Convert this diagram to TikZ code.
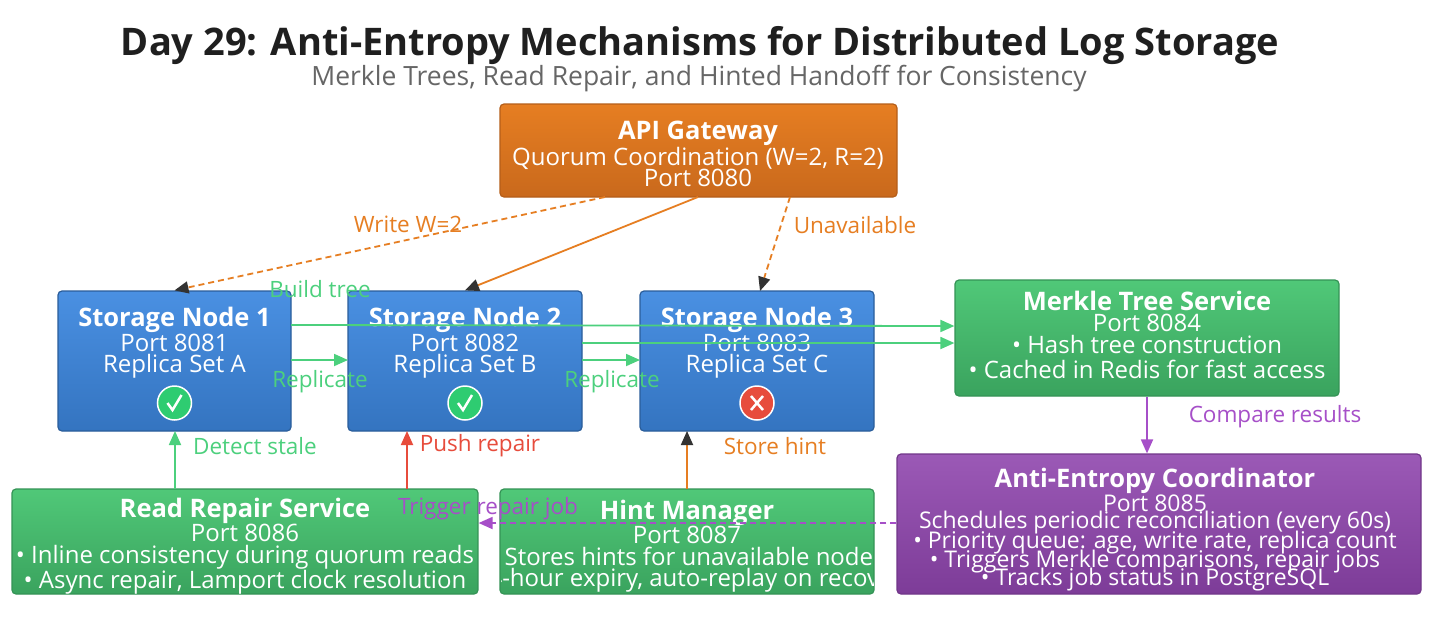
\documentclass[tikz,border=0pt]{standalone}
\usepackage{fontspec}
\setmainfont{Open Sans}
\usetikzlibrary{arrows.meta}
\definecolor{og1}{HTML}{E67E22}\definecolor{og2}{HTML}{C9691C}
\definecolor{bl1}{HTML}{4A90E2}\definecolor{bl2}{HTML}{3474C0}
\definecolor{gr1}{HTML}{50C878}\definecolor{gr2}{HTML}{3AA35E}
\definecolor{pu1}{HTML}{9B59B6}\definecolor{pu2}{HTML}{7D3C98}
\definecolor{eo}{HTML}{E67E22}\definecolor{eg}{HTML}{4CD07D}
\definecolor{er}{HTML}{E74C3C}\definecolor{ep}{HTML}{A64FC8}
\definecolor{ok}{HTML}{2ECC71}
\tikzset{
 box/.style={rounded corners=4pt,line width=1.2pt,inner sep=0pt},
 og/.style={box,draw=og2!90!black,top color=og1,bottom color=og2},
 bl/.style={box,draw=bl2!80!black,top color=bl1,bottom color=bl2},
 gr/.style={box,draw=gr2!90!black,top color=gr1,bottom color=gr2},
 pu/.style={box,draw=pu2!90!black,top color=pu1,bottom color=pu2},
 txt/.style={text=white,align=center,font=\fontsize{24}{21.5}\selectfont,inner sep=0pt},
 ln/.style={text=white,font=\fontsize{23}{24}\selectfont,inner sep=0pt},
 lab/.style={font=\fontsize{22.5}{24}\selectfont,inner sep=1pt},
 tip/.style={-{Triangle[length=14pt,width=12pt]}},
 dtip/.style={-{Triangle[length=14pt,width=12pt,fill=black!80,color=black!80]}},
 ed/.style={line width=1.8pt},
}
\newcommand{\mybox}[6]{\node[#2,minimum width=#5pt,minimum height=#6pt] (#1) at (#3,#4) {};}
\newcommand{\hdr}[1]{{\bfseries\fontsize{25.5}{23}\selectfont #1}}
\begin{document}
\begin{tikzpicture}[x=1pt,y=-1pt]
\useasboundingbox (0,0) rectangle (1456,641);
\fill[white] (0,0) rectangle (1456,641);
\node[font=\bfseries\fontsize{38}{40}\selectfont,text=black!88] (title) at (700,46) {Day 29: Anti-Entropy Mechanisms for Distributed Log Storage};
\node[font=\fontsize{26.5}{28}\selectfont,text=black!60] (sub) at (699,79) {Merkle Trees, Read Repair, and Hinted Handoff for Consistency};
\mybox{gw}{og}{698.5}{150.5}{397}{93}
\mybox{s1}{bl}{174.5}{361}{233}{140}
\mybox{s2}{bl}{465}{361}{234}{140}
\mybox{s3}{bl}{757}{361}{234}{140}
\mybox{mk}{gr}{1147}{338}{384}{116}
\mybox{ae}{pu}{1159}{524}{524}{140}
\mybox{rr}{gr}{245}{541.5}{466}{105}
\mybox{hm}{gr}{687}{541.5}{374}{105}
\coordinate (b1) at (291,325); \coordinate (b2) at (582,343);
\node[txt] (gwt) at (698,154) {\hdr{API Gateway}\\Quorum Coordination (W=2, R=2)\\Port 8080};
\node[txt] (s1t) at (174.5,343) {\hdr{Storage Node 1}\\Port 8081\\Replica Set A};
\node[txt] (s2t) at (465,343) {\hdr{Storage Node 2}\\Port 8082\\Replica Set B};
\node[txt] (s3t) at (757,343) {\hdr{Storage Node 3}\\Port 8083\\Replica Set C};
\node[txt] (mkt) at (1147,335) {\hdr{Merkle Tree Service}\\Port 8084\\• Hash tree construction\\[4pt]• Cached in Redis for fast access};
\node[ln] (ae1) at (1155,481) {\hdr{Anti-Entropy Coordinator}};
\node[ln] (ae2) at (1155,503) {Port 8085};
\node[ln] (ae3) at (1155,523) {Schedules periodic reconciliation (every 60s)};
\node[ln] (ae4) at (1155,543) {• Priority queue: age, write rate, replica count};
\node[ln] (ae5) at (1155,562) {• Triggers Merkle comparisons, repair jobs};
\node[ln] (ae6) at (1155,580) {• Tracks job status in PostgreSQL};
\node[txt] (rrt) at (245,546) {\hdr{Read Repair Service}\\Port 8086\\• Inline consistency during quorum reads\\• Async repair, Lamport clock resolution};
\begin{scope}
\clip[rounded corners=4pt] (501,490) rectangle (873,593);
\node[txt] (hmt) at (687,546) {\hdr{Hint Manager}\\Port 8087\\• Stores hints for unavailable nodes\\• 24-hour expiry, auto-replay on recovery};
\end{scope}
\foreach \n/\x in {i1/174.5,i2/465}{
 \node[circle,fill=ok,draw=white,line width=1.5pt,minimum size=34pt,inner sep=0pt] (\n) at (\x,403) {};
 \draw[white,line width=2.5pt] (\x-7,403) -- (\x-2,410) -- (\x+7,395);}
\node[circle,fill=er,draw=white,line width=1.5pt,minimum size=34pt,inner sep=0pt] (i3) at (757,403) {};
\draw[white,line width=2.5pt] (751,396)--(763,410) (763,396)--(751,410);
\draw[ed,eg,tip] (b1) -- (mk.west |- 0,326);
\draw[ed,eg,tip] (b2) -- (mk.west |- 0,343);
\draw[ed,eo,dash pattern=on 6pt off 4pt,dtip] (605,197) -- (s1.north);
\draw[ed,eo,dtip] (698,197) -- (s2.north);
\draw[ed,eo,dash pattern=on 6pt off 4pt,dtip] (790,197) -- (760,291);
\node[lab,text=eo] (l1) at (408,224) {Write W=2};
\node[lab,text=eo] (l2) at (855,225) {Unavailable};
\node[lab,text=eg] (l3) at (320,289) {Build tree};
\draw[ed,eg,tip] (291,360) -- (348,360);
\draw[ed,eg,tip] (582,360) -- (640,360);
\node[lab,text=eg] (l4) at (320,382) {Replicate};
\node[lab,text=eg] (l5) at (612,382) {Replicate};
\draw[ed,ep,tip] (mk.south) -- (ae.north -| mk.south);
\node[lab,text=ep] (l6) at (1275,417) {Compare results};
\draw[ed,ep,dash pattern=on 6pt off 4pt,tip] (ae.west |- 0,523) -- (rr.east |- 0,523);
\node[lab,text=ep] (l7) at (488,509) {Trigger repair job};
\draw[ed,eg,tip] (175,489) -- (175,431);
\node[lab,text=eg] (l8) at (255,446) {Detect stale};
\draw[ed,er,tip] (407,489) -- (407,431);
\node[lab,text=er] (l9) at (480,446) {Push repair};
\draw[ed,eo,dtip] (687,489) -- (687,431);
\node[lab,text=eo] (l10) at (775,446) {Store hint};
\end{tikzpicture}
\end{document}
